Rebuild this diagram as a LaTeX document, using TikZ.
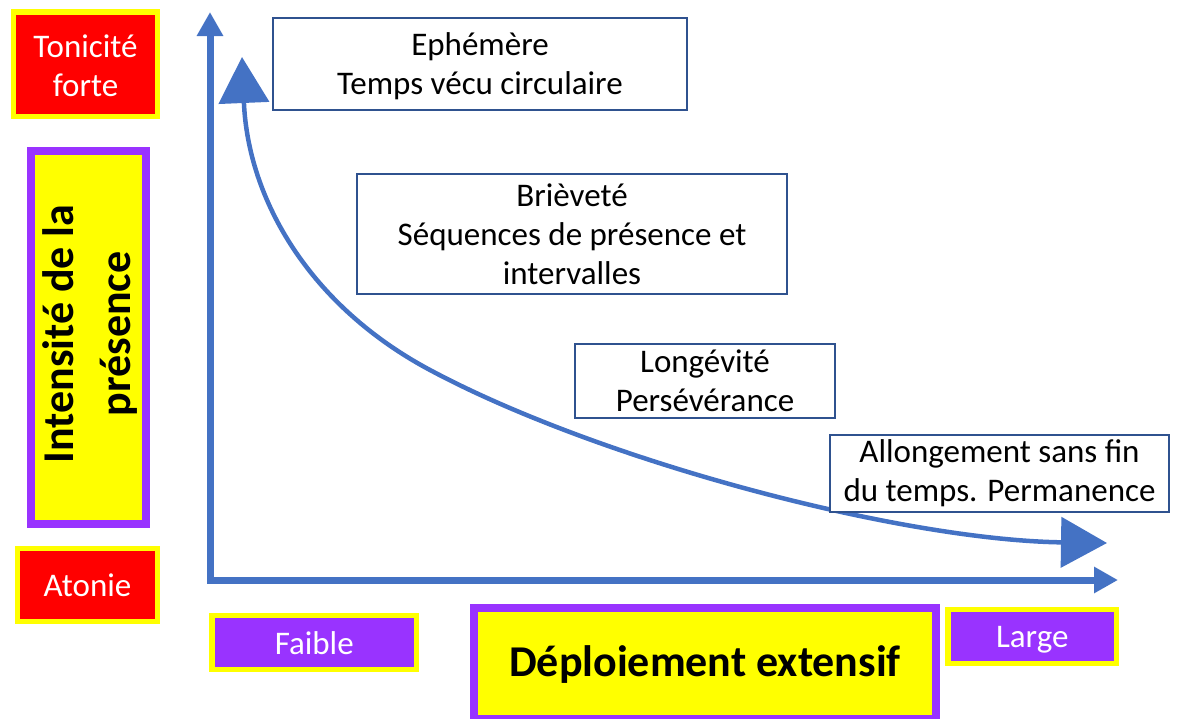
\documentclass[tikz,border=0pt]{standalone}
\usepackage{fontspec}
\setmainfont{Carlito}
\usetikzlibrary{arrows.meta}
\definecolor{axisblue}{HTML}{4472C4}
\definecolor{boxline}{HTML}{2F528F}
\definecolor{purp}{HTML}{9933FF}
\definecolor{yel}{HTML}{FFFF00}
\definecolor{rd}{HTML}{FF0000}
\newcommand{\lowr}[2]{\raisebox{-#1}[\height][\depth]{#2}}
\tikzset{
  txt/.style={font=\fontsize{33}{39}\selectfont, align=center, inner sep=0pt},
  redbox/.style={txt, fill=rd, draw=yel, line width=5.5pt, text=white},
  purpbox/.style={txt, fill=purp, draw=yel, line width=5.5pt, text=white},
  bigbox/.style={fill=yel, draw=purp, line width=8pt, inner sep=0pt, align=center},
  notebox/.style={txt, draw=boxline, line width=1.5pt, fill=white, text=black},
  axisline/.style={draw=axisblue, line width=7pt, line join=miter,
    arrows={Triangle[length=24pt,width=25pt]-Triangle[length=24pt,width=25pt]}},
  curveline/.style={draw=axisblue, line width=4.5pt,
    arrows={Triangle[length=46pt,width=50pt]-Triangle[length=46pt,width=50pt]}}
}
\begin{document}
\begin{tikzpicture}[x=1pt,y=-1pt]
\useasboundingbox (0,0) rectangle (1178,718);
% axes
\coordinate (ytop) at (210,12);
\coordinate (xend) at (1118,580);
\draw[axisline] (ytop) |- (xend);
% curve
\coordinate (c0) at (242,57);
\coordinate (c1) at (430,370);
\coordinate (c2) at (1107,543);
\draw[curveline] (c0) .. controls (248,200) and (310,306) .. (c1)
  .. controls (600,461) and (900,540) .. (c2);
% left boxes
\node[redbox, minimum width=144pt, minimum height=104.5pt] (ton) at (85.5,64.25) {\lowr{2pt}{Tonicité}\\\lowr{2pt}{forte}};
\node[redbox, minimum width=140pt, minimum height=73pt] (ato) at (87.5,585) {Atonie};
\node[bigbox, minimum width=114.5pt, minimum height=373pt] (int) at (88.25,337.5) {};
\node[rotate=90, inner sep=0pt, align=center, font=\fontsize{44}{57}\selectfont\bfseries] (intt) at (90,334)
  {Intensité de la\\présence};
% bottom boxes
\node[purpbox, minimum width=204.5pt, minimum height=54pt] (fai) at (314.25,642.5) {\lowr{1pt}{Faible}};
\node[purpbox, minimum width=168.5pt, minimum height=54pt] (lar) at (1032.25,636.5) {\lowr{3pt}{Large}};
\node[bigbox, minimum width=462pt, minimum height=111pt, font=\fontsize{44}{50}\selectfont\bfseries] (dep) at (705,663.5) {\lowr{1pt}{Déploiement extensif}};
% note boxes
\node[notebox, minimum width=414pt, minimum height=92pt] (eph) at (480,64) {\lowr{2pt}{Ephémère}\\\lowr{2pt}{Temps vécu circulaire}};
\node[notebox, minimum width=430pt, minimum height=120pt] (bri) at (572,234) {Brièveté\\Séquences de présence et\\intervalles};
\node[notebox, minimum width=260pt, minimum height=74pt] (lon) at (705,381) {Longévité\\Persévérance};
\node[notebox, minimum width=339pt, minimum height=77pt] (all) at (999.5,473.5) {Allongement sans fin\\du temps. Permanence};
\end{tikzpicture}
\end{document}
